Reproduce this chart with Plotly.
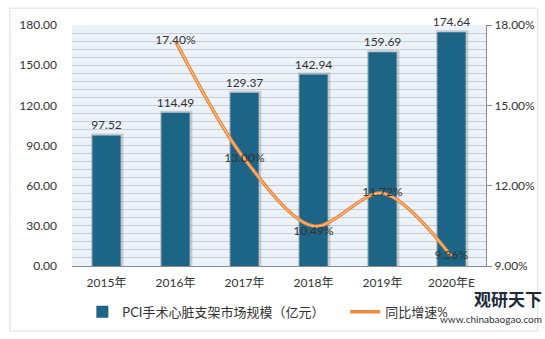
import plotly.graph_objects as go

years = ["2015年", "2016年", "2017年", "2018年", "2019年", "2020年E"]
market = [97.52, 114.49, 129.37, 142.94, 159.69, 174.64]
growth_years = ["2016年", "2017年", "2018年", "2019年", "2020年E"]
growth = [17.40, 13.00, 10.49, 11.72, 9.36]
growth_pos = ["middle center", "middle center", "bottom center", "middle center", "middle center"]

FONT = "Lato, Noto Sans CJK SC, sans-serif"
fig = go.Figure()

# shadow bars
fig.add_trace(go.Bar(x=years, y=[v + 1.5 for v in market], width=0.47,
                     marker=dict(color="rgba(110,110,110,0.30)", line_width=0),
                     hoverinfo="skip", showlegend=False, offset=-0.225))
fig.add_trace(go.Bar(x=years, y=market, name="PCI手术心脏支架市场规模（亿元）", width=0.41,
                     marker=dict(color="#1C6587", line_width=0), offset=-0.205,
                     text=[f"{v:.2f}" for v in market], textposition="outside",
                     constraintext="none", legend="legend",
                     textfont=dict(size=12, color="#333333", family=FONT), cliponaxis=False))
fig.add_trace(go.Scatter(x=growth_years, y=growth, yaxis="y2", mode="lines", name="同比增速%",
                         legend="legend2",
                         line=dict(color="#EE8A3A", width=3.5, shape="spline", smoothing=0.9)))
fig.add_trace(go.Scatter(x=growth_years, y=growth, yaxis="y2", mode="lines+text", showlegend=False,
                         line=dict(color="#F8CDA8", width=1, shape="spline", smoothing=0.9),
                         text=[f"{v:.2f}%" for v in growth], textposition=growth_pos,
                         textfont=dict(size=12, color="#333333", family=FONT), hoverinfo="skip",
                         cliponaxis=False))

legend_common = dict(orientation="h", yref="container", y=0.08, xanchor="left", yanchor="middle",
                     font=dict(size=13, color="#333333"), bgcolor="rgba(0,0,0,0)")

fig.update_layout(
    width=545, height=339,
    margin=dict(l=72, r=59, t=25, b=73, autoexpand=False),
    paper_bgcolor="white", plot_bgcolor="#EBF2F9",
    barmode="overlay",
    font=dict(family=FONT, size=12, color="#333333"),
    xaxis=dict(showgrid=False, showline=True, linecolor="#8C8C8C", ticks="",
               tickfont=dict(size=12, color="#333333"), ticklabelstandoff=6),
    yaxis=dict(range=[0, 180], dtick=30, tickformat=".2f", showgrid=True, gridcolor="#C9CED3",
               gridwidth=1, showline=False, zeroline=False, ticks="", ticklabelstandoff=14,
               minor=dict(dtick=6, showgrid=True, gridcolor="#C9CED3", gridwidth=1),
               tickfont=dict(size=12, color="#333333")),
    yaxis2=dict(range=[9, 18], dtick=3, overlaying="y", side="right", showgrid=False,
                ticksuffix="%", tickformat=".2f", showline=True, linecolor="#8C8C8C",
                ticks="outside", ticklen=5, tickcolor="#8C8C8C", zeroline=False,
                tickfont=dict(size=12, color="#333333")),
    legend=dict(legend_common, x=0.025),
    legend2=dict(legend_common, x=0.66),
    showlegend=True,
)

fig.add_annotation(text="<b>观研天下</b>", xref="paper", yref="paper", x=1.14, y=-0.075,
                   xanchor="right", yanchor="top", showarrow=False,
                   font=dict(size=17, color="#1E2A38", family="Noto Sans CJK SC"))
fig.add_annotation(text="www.chinabaogao.com", xref="paper", yref="paper", x=1.14, y=-0.185,
                   xanchor="right", yanchor="top", showarrow=False,
                   font=dict(size=10, color="#333333", family="Lato"))
fig.add_shape(type="rect", xref="paper", yref="paper", x0=-0.150, x1=1.125, y0=-0.27, y1=1.07,
              line=dict(color="#DDDDDD", width=1), fillcolor="rgba(0,0,0,0)", layer="below")

fig.write_html("out.html")
